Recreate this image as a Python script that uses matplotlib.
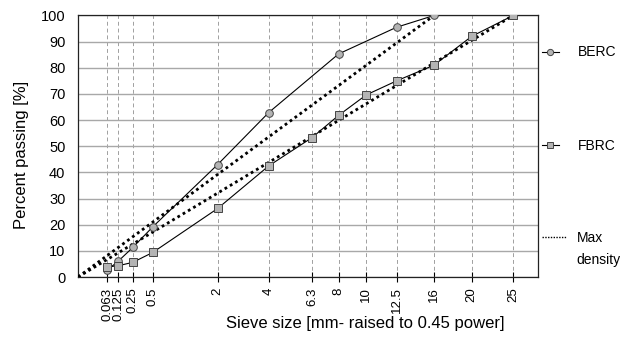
import numpy as np
import matplotlib.pyplot as plt
from matplotlib.lines import Line2D

plt.rcParams['font.family'] = ['Liberation Sans', 'DejaVu Sans']

POWER = 0.45

sieve_ticks = [0.063, 0.125, 0.25, 0.5, 2, 4, 6.3, 8, 10, 12.5, 16, 20, 25]
tick_labels = ["0.063", "0.125", "0.25", "0.5", "2", "4", "6.3", "8", "10", "12.5", "16", "20", "25"]

berc_size = [0.063, 0.125, 0.25, 0.5, 2, 4, 8, 12.5, 16]
berc_pass = [2.7, 6.0, 11.3, 19.2, 43.0, 62.9, 85.3, 95.5, 100]

fbrc_size = [0.063, 0.125, 0.25, 0.5, 2, 4, 6.3, 8, 10, 12.5, 16, 20, 25]
fbrc_pass = [3.9, 4.3, 5.6, 9.4, 26.2, 42.5, 53.3, 61.8, 69.6, 75.0, 81.0, 92.0, 100]

# max density curves (Fuller, n=0.45) for Dmax 16 and 25
maxd_16_size = [0, 16]
maxd_25_size = [0, 25]
maxd_pass = [0, 100]


def tr(x):
    return np.power(np.asarray(x, dtype=float), POWER)


def main():
    fig = plt.figure(figsize=(6.2, 3.48), dpi=100)
    ax = fig.add_axes([0.1258, 0.204, 0.742, 0.7515])

    ax.plot(tr(maxd_16_size), maxd_pass, color="k", ls=(0, (1, 1.2)), lw=2.0, zorder=3)
    ax.plot(tr(maxd_25_size), maxd_pass, color="k", ls=(0, (1, 1.2)), lw=2.0, zorder=3)

    ax.plot(tr(berc_size), berc_pass, color="k", lw=0.8, marker="o", ms=5.5,
            mfc="#b4b4b4", mec="#444444", mew=0.7, zorder=4)
    ax.plot(tr(fbrc_size), fbrc_pass, color="k", lw=0.8, marker="s", ms=6,
            mfc="#b4b4b4", mec="#444444", mew=0.7, zorder=4)

    ax.set_xlim(0, 4.5)
    ax.set_ylim(0, 100)
    ax.set_xticks(tr(sieve_ticks))
    ax.set_xticklabels(tick_labels, rotation=90, fontsize=9.5)
    ax.set_yticks(np.arange(0, 101, 10))
    ax.tick_params(axis="y", length=0, pad=9, labelsize=10.5)
    ax.tick_params(axis="x", direction="inout", length=7, width=0.8, pad=4)

    ax.grid(axis="y", color="#a8a8a8", lw=1.0, ls="-")
    ax.grid(axis="x", color="#a0a0a0", lw=0.7, ls=(0, (4, 3)))
    ax.set_axisbelow(True)
    for s in ax.spines.values():
        s.set_linewidth(0.9)
        s.set_color("#222222")

    ax.set_ylabel("Percent passing [%]", fontsize=12)
    ax.yaxis.set_label_coords(-0.107, 0.466)
    ax.set_xlabel("Sieve size [mm- raised to 0.45 power]", fontsize=12)
    ax.xaxis.set_label_coords(0.624, -0.15)

    h_berc = Line2D([], [], color="k", lw=0.8, marker="o", ms=4.5,
                    mfc="#b4b4b4", mec="#444444", mew=0.7)
    h_fbrc = Line2D([], [], color="k", lw=0.8, marker="s", ms=5,
                    mfc="#b4b4b4", mec="#444444", mew=0.7)
    h_max = Line2D([], [], color="k", lw=1.0, ls=(0, (1, 1)))

    common = dict(frameon=False, fontsize=10, borderpad=0, borderaxespad=0, loc="center left")
    fig.legend([h_berc], ["BERC"], bbox_to_anchor=(542 / 620, 1 - 52.5 / 348),
               handlelength=1.2, handletextpad=1.35, **common)
    fig.legend([h_fbrc], ["FBRC"], bbox_to_anchor=(542 / 620, 1 - 145.5 / 348),
               handlelength=1.2, handletextpad=1.35, **common)
    fig.legend([h_max], ["Max"], bbox_to_anchor=(542 / 620, 1 - 238 / 348),
               handlelength=1.8, handletextpad=0.7, **common)
    fig.text(576 / 620, 1 - 260 / 348, "density", fontsize=10, va="center", ha="left")

    fig.savefig("out.png", dpi=100)


if __name__ == "__main__":
    main()
